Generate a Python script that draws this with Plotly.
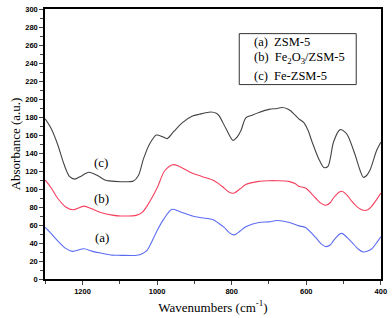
import plotly.graph_objects as go

wn_c = [1300,1285,1267,1250,1235,1221,1205,1183,1160,1140,1129,1063,1050,1036,1020,1002,985,973,955,931,905,887,856,840,833,815,796,785,775,762,745,727,700,678,665,650,642,620,607,595,584,567,553,542,535,527,509,495,487,469,455,447,438,429,411,400]
val_c = [178,168,150,128,114,111,114,118.6,115,110,109,109,115,134,150,160,158,156,164,174,181,183,185.5,184,181,167,154,158,165,179,182,185,188.5,189.5,190.5,189,187,178,174,165,152,134,124,125,135,152,166,163,158,138,120,113,115,121,143,152]

wn_b = [1300,1285,1267,1245,1225,1196,1175,1151,1120,1098,1054,1040,1027,1000,980,958,940,905,880,851,835,820,805,793,778,762,727,700,678,647,630,620,602,575,560,547,535,527,510,504,490,478,460,447,435,424,410,400]
val_b = [110,102,90,80,77,81,78,74,71,70,71,74,81,101,120,127,125,117.5,114,110,106,101,96,95.6,100,105,108.5,109.2,109.2,108.5,106,103,101,90,84,82,85,90,97,97.5,93,86.5,79,76.3,77,81,89,95.6]

wn_a = [1300,1285,1267,1245,1227,1196,1175,1151,1120,1098,1054,1040,1027,1000,983,960,940,905,880,851,835,820,805,793,778,762,727,700,678,647,620,602,575,560,547,535,527,510,504,490,478,460,447,435,424,410,400]
val_a = [57.3,51,42.7,34,30.7,33.6,31,28.8,26.5,26.3,26.3,28,31.8,53.7,66,77.4,75,70,68,66,62,57.3,51,49,53,58,62.8,63.5,65,63,59,57.3,46.3,39,36,38,42.7,50,50.7,46,41,33,30,31,33.6,41,47]

x_ticks = [1200, 1000, 800, 600, 400]
y_ticks = list(range(0, 301, 20))
legend_lines = ["(a)&nbsp;&nbsp;ZSM-5", "(b)&nbsp;&nbsp;Fe<sub>2</sub>O<sub>3</sub>/ZSM-5", "(c)&nbsp;&nbsp;Fe-ZSM-5"]

serif = "Liberation Serif, Times New Roman, serif"
tickf = dict(family="Liberation Sans, Arial, sans-serif", size=7.5, color="black", weight="bold")

W, H = 392, 318
L, R, T, B = 45, 8, 5, 39
pw, ph = W - L - R, H - T - B

fig = go.Figure()
fig.add_trace(go.Scatter(x=wn_a, y=val_a, mode="lines", line=dict(color="#5b6cf2", width=1.1, shape="spline", smoothing=0.8), showlegend=False))
fig.add_trace(go.Scatter(x=wn_b, y=val_b, mode="lines", line=dict(color="#f5405e", width=1.1, shape="spline", smoothing=0.8), showlegend=False))
fig.add_trace(go.Scatter(x=wn_c, y=val_c, mode="lines", line=dict(color="#444444", width=1.1, shape="spline", smoothing=0.8), showlegend=False))

for txt, x, y in [("(c)", 1150, 130), ("(b)", 1150, 89.5), ("(a)", 1147, 46)]:
    fig.add_annotation(x=x, y=y, text=txt, showarrow=False, font=dict(family=serif, size=13, color="black"))

def px(x): return (x - L) / pw
def py(y): return (H - B - y) / ph
fig.add_shape(type="rect", xref="paper", yref="paper", x0=px(241), x1=px(359),
              y0=py(81.7), y1=py(30), line=dict(color="#333", width=1), fillcolor="white")
for txt, yy in zip(legend_lines, [38.3, 54.3, 72.7]):
    fig.add_annotation(xref="paper", yref="paper", x=px(254), y=py(yy), xanchor="left", yanchor="middle",
                       text=txt, showarrow=False, font=dict(family=serif, size=12.5, color="black"))

fig.update_xaxes(range=[1300.5, 399.5], tickvals=x_ticks, ticks="outside", ticklen=4, tickwidth=1.2,
                 minor=dict(dtick=100, ticks="outside", ticklen=3, tickwidth=1),
                 showline=True, linecolor="black", linewidth=1.5, mirror=True, showgrid=False, zeroline=False,
                 tickfont=tickf,
                 title=dict(text="Wavenumbers (cm<sup>-1</sup>)", font=dict(family=serif, size=13, color="black"), standoff=8))
fig.update_yaxes(range=[0, 300], tickvals=y_ticks, ticks="outside", ticklen=4, tickwidth=1.2,
                 minor=dict(dtick=10, ticks="outside", ticklen=3, tickwidth=1),
                 showline=True, linecolor="black", linewidth=1.5, mirror=True, showgrid=False, zeroline=False,
                 tickfont=tickf,
                 title=dict(text="Absorbance (a.u.)", font=dict(family=serif, size=13, color="black"), standoff=2))
fig.update_layout(width=W, height=H, margin=dict(l=L, r=R, t=T, b=B),
                  plot_bgcolor="white", paper_bgcolor="white")
fig.write_html("out.html", config={"displayModeBar": False}, post_script="document.body.style.margin='0';")
